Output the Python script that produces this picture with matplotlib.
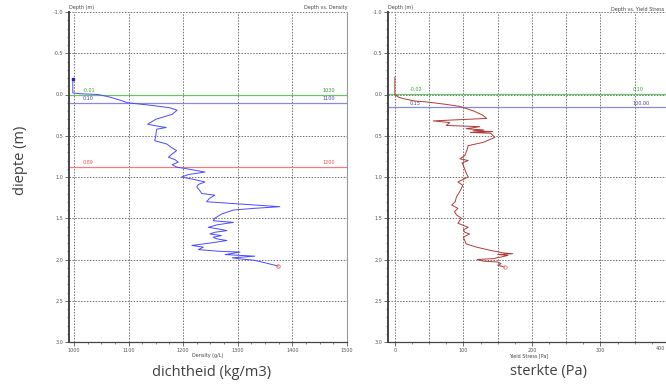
import matplotlib.pyplot as plt
from matplotlib.ticker import MultipleLocator

# Dichtheid-profiel (diepte in m, dichtheid in g/L)
diepte_dichtheid = [
    -0.19, -0.02, -0.01, 0.00, 0.03, 0.07, 0.10, 0.13, 0.16, 0.19,
    0.24, 0.30, 0.36, 0.38, 0.40, 0.42, 0.44, 0.50, 0.56, 0.60,
    0.64, 0.68, 0.72, 0.76, 0.79, 0.82, 0.85, 0.88, 0.91, 0.94,
    0.97, 1.00, 1.03, 1.06, 1.09, 1.12, 1.16, 1.20, 1.22, 1.26,
    1.30, 1.33, 1.36, 1.38, 1.40, 1.45, 1.50, 1.53, 1.55, 1.58,
    1.61, 1.63, 1.65, 1.67, 1.69, 1.71, 1.73, 1.75, 1.77, 1.80,
    1.83, 1.85, 1.88, 1.90, 1.91, 1.94, 1.96, 1.98, 1.99, 2.01,
    2.04, 2.08
]
dichtheid = [
    998, 998, 1010, 1044, 1065, 1085, 1098, 1140, 1175, 1189,
    1180, 1150, 1135, 1150, 1169, 1152, 1151, 1150, 1148, 1170,
    1178, 1188, 1180, 1173, 1185, 1191, 1180, 1188, 1215, 1240,
    1210, 1197, 1220, 1240, 1228, 1225, 1230, 1234, 1258, 1248,
    1243, 1310, 1377, 1330, 1292, 1270, 1258, 1255, 1292, 1262,
    1246, 1265, 1280, 1258, 1249, 1270, 1255, 1262, 1280, 1250,
    1216, 1237, 1228, 1265, 1304, 1277, 1331, 1290, 1301, 1331,
    1350, 1374
]

# Sterkte-profiel (diepte in m, yield stress in Pa)
diepte_sterkte = [
    -0.21, 0.00, 0.03, 0.05, 0.08, 0.09, 0.12, 0.145, 0.20, 0.25,
    0.29, 0.32, 0.34, 0.375, 0.39, 0.415, 0.43, 0.44, 0.45, 0.46,
    0.47, 0.52, 0.58, 0.62, 0.68, 0.74, 0.78, 0.80, 0.83, 0.86,
    0.93, 1.00, 1.06, 1.10, 1.14, 1.20, 1.24, 1.30, 1.34, 1.38,
    1.42, 1.46, 1.50, 1.56, 1.61, 1.64, 1.67, 1.69, 1.73, 1.77,
    1.81, 1.85, 1.89, 1.92, 1.93, 1.94, 1.95, 1.97, 1.99, 2.00,
    2.02, 2.03, 2.05, 2.07, 2.09
]
sterkte = [
    0, 0, 5, 12, 30, 46, 75, 95, 115, 128,
    134, 56, 80, 75, 124, 104, 130, 114, 143, 110,
    140, 146, 129, 107, 105, 102, 95, 107, 98, 100,
    103, 107, 92, 99, 97, 93, 90, 88, 83, 92,
    87, 90, 97, 92, 107, 100, 102, 109, 100, 102,
    104, 119, 140, 158, 172, 150, 165, 155, 143, 120,
    129, 150, 155, 150, 160
]

# Horizontale referentielijnen: diepte, label links, label rechts
lijnen_dichtheid = [(0.00, '-0.01', '1030'), (0.10, '0.10', '1100'), (0.88, '0.89', '1200')]
lijnen_sterkte = [(-0.01, '-0.02', '0.10'), (0.155, '0.15', '100.00')]
lijn_kleuren = ['#6cc36c', '#8a8ad8', '#f08080']
tekst_kleuren = ['#3a9a3a', '#4646a0', '#f05050']

W, H = 666, 392
fig = plt.figure(figsize=(W / 100, H / 100), dpi=100)
fig.patch.set_facecolor('white')

ax1 = fig.add_axes([69 / W, 1 - 342 / H, 278 / W, 330 / H])
ax2 = fig.add_axes([388 / W, 1 - 342 / H, 281 / W, 330 / H])


def opmaak(ax, xmin, xmax, xmajor, xgrid, xminor, xlabel):
    ax.set_xlim(xmin, xmax)
    ax.set_ylim(3.0, -1.0)
    ax.xaxis.set_major_locator(MultipleLocator(xmajor))
    ax.xaxis.set_minor_locator(MultipleLocator(xminor))
    ax.yaxis.set_major_locator(MultipleLocator(0.5))
    ax.yaxis.set_minor_locator(MultipleLocator(0.1))
    ax.yaxis.set_major_formatter(lambda v, p: f'{v:.1f}')
    for g in range(0, int(xmax) + 1, xgrid):
        if g >= xmin:
            ax.axvline(g, color='#707070', lw=0.7, ls=(0, (1.5, 1.5)), zorder=0)
    for g in [-1.0, -0.5, 0.0, 0.5, 1.0, 1.5, 2.0, 2.5]:
        ax.axhline(g, color='#707070', lw=0.7, ls=(0, (1.5, 1.5)), zorder=0)
    ax.tick_params(labelsize=3.5, colors='#555555', length=3, width=0.6, pad=1)
    ax.tick_params(which='minor', length=1.5, width=0.5, colors='#555555')
    ax.spines['top'].set_visible(False)
    ax.spines['left'].set_color('#444444')
    ax.spines['left'].set_linewidth(1.4)
    ax.spines['bottom'].set_color('#444444')
    ax.spines['bottom'].set_linewidth(0.9)
    ax.spines['right'].set_color('#999999')
    ax.spines['right'].set_linewidth(0.8)
    ax.set_xlabel(xlabel, fontsize=3.5, color='#444444', labelpad=0.5)
    ax.text(0.0, 1.005, 'Depth (m)', transform=ax.transAxes, fontsize=3.5,
            color='#444444', ha='left', va='bottom')


opmaak(ax1, 991, 1500, 100, 100, 25, 'Density (g/L)')
opmaak(ax2, -10, 400, 100, 50, 25, 'Yield Stress [Pa]')
ax1.text(1.0, 1.005, 'Depth vs. Density', transform=ax1.transAxes, fontsize=3.5,
         color='#444444', ha='right', va='bottom')
fig.text(664 / W, 1 - 11.5 / H, 'Depth vs. Yield Stress', fontsize=3.5,
         color='#444444', ha='right', va='bottom')
# het label 400 valt op de rand: los en rechts uitgelijnd tekenen
ax2.xaxis.set_major_formatter(lambda v, p: '' if v >= 400 else f'{v:.0f}')
fig.text(665 / W, 1 - 346.5 / H, '400', fontsize=3.5, color='#555555',
         ha='right', va='top')

# Referentielijnen met labels
for i, (d, links, rechts) in enumerate(lijnen_dichtheid):
    ax1.axhline(d, color=lijn_kleuren[i], lw=0.9, zorder=1)
    ax1.text(1016, d - 0.02, links, fontsize=3.5, color=tekst_kleuren[i], va='bottom')
    ax1.text(1456, d - 0.02, rechts, fontsize=3.5, color=tekst_kleuren[i], va='bottom')
for i, (d, links, rechts) in enumerate(lijnen_sterkte):
    ax2.axhline(d, color=lijn_kleuren[i], lw=0.9, zorder=1)
    ax2.text(22, d - 0.02, links, fontsize=3.5, color=tekst_kleuren[i], va='bottom')
    ax2.text(347, d - 0.02, rechts, fontsize=3.5, color=tekst_kleuren[i], va='bottom')

# Profielen
ax1.plot(dichtheid, diepte_dichtheid, color='#4a4aff', lw=0.7, zorder=3)
ax1.plot(dichtheid[:1], diepte_dichtheid[:1], 's', color='#2020d0', ms=2, zorder=4)
ax1.plot(dichtheid[-1:], diepte_dichtheid[-1:], 'o', mfc='none', mec='#f06060',
         ms=2.5, mew=0.6, zorder=4)

ax2.plot(sterkte, diepte_sterkte, color='#b03a3a', lw=0.7, zorder=3)
ax2.plot(sterkte[-1:], diepte_sterkte[-1:], 'o', mfc='none', mec='#f07070',
         ms=2.5, mew=0.6, zorder=4)

# Grote Nederlandse labels
fig.text(20 / W, 1 - 160 / H, 'diepte (m)', rotation=90, fontsize=10.5,
         family='Open Sans', color='#404040', ha='center', va='center')
fig.text(212 / W, 1 - 372 / H, 'dichtheid (kg/m3)', fontsize=10.5,
         family='Open Sans', color='#404040', ha='center', va='center')
fig.text(548 / W, 1 - 372 / H, 'sterkte (Pa)', fontsize=10.5,
         family='Open Sans', color='#404040', ha='center', va='center')

fig.savefig('out.png', dpi=100, facecolor='white')
